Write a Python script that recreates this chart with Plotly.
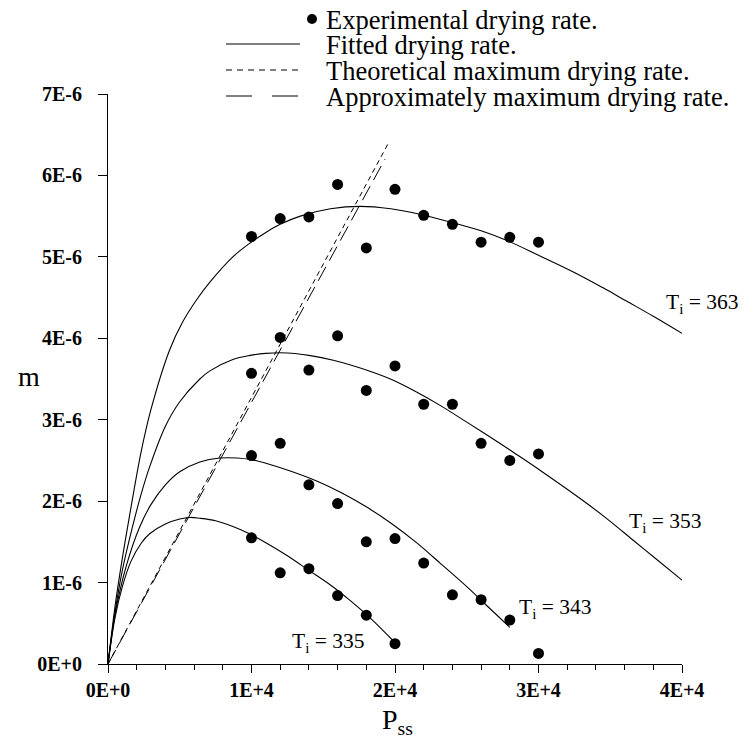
import plotly.graph_objects as go

# ---------------- data ----------------
P_exp = [10000, 12000, 14000, 16000, 18000, 20000, 22000, 24000, 26000, 28000, 30000]
m_exp_363 = [5.25e-6, 5.47e-6, 5.49e-6, 5.89e-6, 5.11e-6, 5.83e-6, 5.51e-6, 5.40e-6, 5.18e-6, 5.24e-6, 5.18e-6]
m_exp_353 = [3.57e-6, 4.01e-6, 3.61e-6, 4.03e-6, 3.36e-6, 3.66e-6, 3.19e-6, 3.19e-6, 2.71e-6, 2.50e-6, 2.58e-6]
m_exp_343 = [2.56e-6, 2.71e-6, 2.20e-6, 1.97e-6, 1.50e-6, 1.54e-6, 1.24e-6, 0.85e-6, 0.79e-6, 0.54e-6, 0.13e-6]
P_exp_335 = [10000, 12000, 14000, 16000, 18000, 20000]
m_exp_335 = [1.55e-6, 1.12e-6, 1.17e-6, 0.84e-6, 0.60e-6, 0.25e-6]

fit_P_363 = [0, 500, 1000, 1500, 2300, 3000, 4300, 5200, 6200, 7100, 8700, 9900, 11000, 12000, 13400,
             15500, 17600, 19700, 21800, 24000, 26000, 27800, 30000, 32600, 34500, 36100, 38000, 40000]
fit_m_363 = [0, 0.72e-6, 1.30e-6, 1.82e-6, 2.60e-6, 3.13e-6, 3.86e-6, 4.20e-6, 4.48e-6, 4.69e-6,
             5.00e-6, 5.17e-6, 5.30e-6, 5.40e-6, 5.50e-6, 5.59e-6, 5.62e-6, 5.59e-6, 5.52e-6, 5.42e-6,
             5.32e-6, 5.20e-6, 5.02e-6, 4.80e-6, 4.62e-6, 4.46e-6, 4.27e-6, 4.06e-6]

fit_P_353 = [0, 500, 1000, 1700, 2300, 2900, 4000, 5000, 6400, 7100, 8700, 9900, 11000, 12500, 14000,
             15700, 18000, 19800, 21500, 23200, 25000, 27300, 28500, 30100, 33000, 34800, 36600, 38200, 40000]
fit_m_353 = [0, 0.65e-6, 1.15e-6, 1.68e-6, 2.08e-6, 2.42e-6, 2.92e-6, 3.22e-6, 3.50e-6, 3.60e-6, 3.74e-6,
             3.79e-6, 3.815e-6, 3.82e-6, 3.79e-6, 3.73e-6, 3.61e-6, 3.49e-6, 3.34e-6, 3.17e-6, 2.97e-6,
             2.71e-6, 2.57e-6, 2.38e-6, 2.02e-6, 1.78e-6, 1.52e-6, 1.29e-6, 1.03e-6]

fit_P_343 = [0, 500, 1300, 2200, 3000, 4000, 5000, 6400, 7800, 9000, 10000, 11000, 12700, 14500, 16300,
             18000, 19800, 21500, 23200, 25000, 26500, 28000]
fit_m_343 = [0, 0.62e-6, 1.22e-6, 1.68e-6, 1.96e-6, 2.20e-6, 2.36e-6, 2.48e-6, 2.53e-6, 2.53e-6, 2.51e-6,
             2.465e-6, 2.37e-6, 2.25e-6, 2.10e-6, 1.93e-6, 1.72e-6, 1.49e-6, 1.23e-6, 0.95e-6, 0.70e-6, 0.45e-6]

fit_P_335 = [0, 500, 1000, 1600, 2300, 2900, 4000, 5000, 5700, 6400, 7500, 8700, 9750, 11000, 12500, 14000,
             15500, 16800, 18300, 19900]
fit_m_335 = [0, 0.58e-6, 0.95e-6, 1.26e-6, 1.48e-6, 1.60e-6, 1.72e-6, 1.78e-6, 1.80e-6, 1.79e-6, 1.76e-6,
             1.69e-6, 1.61e-6, 1.49e-6, 1.33e-6, 1.15e-6, 0.97e-6, 0.79e-6, 0.56e-6, 0.28e-6]

theo_P = [0, 19550]
theo_m = [0, 6.40e-6]
approx_P = [0, 19300]
approx_m = [0, 6.20e-6]

x_tick_vals = [0, 10000, 20000, 30000, 40000]
x_tick_text = ["0E+0", "1E+4", "2E+4", "3E+4", "4E+4"]
y_tick_vals = [0, 1e-6, 2e-6, 3e-6, 4e-6, 5e-6, 6e-6, 7e-6]
y_tick_text = ["0E+0", "1E-6", "2E-6", "3E-6", "4E-6", "5E-6", "6E-6", "7E-6"]

labels = ["T<sub>i</sub> = 363", "T<sub>i</sub> = 353", "T<sub>i</sub> = 343", "T<sub>i</sub> = 335"]
label_P = [38750, 36200, 28500, 12700]
label_m = [4.43e-6, 1.74e-6, 0.68e-6, 0.27e-6]

legend_texts = ["Experimental drying rate.", "Fitted drying rate.",
                "Theoretical maximum drying rate.", "Approximately maximum drying rate."]

# ---------------- figure ----------------
SERIF = "Liberation Serif, Times New Roman, serif"
fig = go.Figure()

line_style = dict(color="black", width=1.1, shape="spline", smoothing=1.0)
for P, m in [(fit_P_363, fit_m_363), (fit_P_353, fit_m_353), (fit_P_343, fit_m_343), (fit_P_335, fit_m_335)]:
    fig.add_trace(go.Scatter(x=P, y=m, mode="lines", line=line_style, showlegend=False, cliponaxis=False))

fig.add_trace(go.Scatter(x=theo_P, y=theo_m, mode="lines",
                         line=dict(color="black", width=1, dash="5px,4px"), showlegend=False, cliponaxis=False))
fig.add_trace(go.Scatter(x=approx_P, y=approx_m, mode="lines",
                         line=dict(color="black", width=1, dash="16px,7px"), showlegend=False, cliponaxis=False))

marker = dict(color="black", size=11, symbol="circle")
for P, m in [(P_exp, m_exp_363), (P_exp, m_exp_353), (P_exp, m_exp_343), (P_exp_335, m_exp_335)]:
    fig.add_trace(go.Scatter(x=P, y=m, mode="markers", marker=marker, showlegend=False, cliponaxis=False))

# curve labels
for t, px, pm in zip(labels, label_P, label_m):
    fig.add_annotation(x=px, y=pm, text=t, showarrow=False, xanchor="left", yanchor="middle",
                       font=dict(family=SERIF, size=21.5, color="black"))

# axis titles
fig.add_annotation(xref="paper", yref="paper", x=-0.138, y=0.505, text="m", showarrow=False,
                   xanchor="center", yanchor="middle", font=dict(family=SERIF, size=28, color="black"))
fig.add_annotation(xref="paper", yref="paper", x=0.505, y=-0.10, text="P<sub>ss</sub>", showarrow=False,
                   xanchor="center", yanchor="middle", font=dict(family=SERIF, size=28, color="black"))

# manual legend (paper coordinates; page pixels -> paper)
W, H = 574.0, 570.0
def px2x(p):
    return (p - 108.0) / W
def py2y(p):
    return (664.0 - p) / H

rows_y = [19, 44, 70, 96]
text_x = px2x(324)
for t, ry in zip(legend_texts, rows_y):
    fig.add_annotation(xref="paper", yref="paper", x=text_x, y=py2y(ry + 1), text=t, showarrow=False,
                       xanchor="left", yanchor="middle", font=dict(family=SERIF, size=26.5, color="black"))
# dot
fig.add_shape(type="circle", xref="paper", yref="paper",
              x0=px2x(307), x1=px2x(317), y0=py2y(rows_y[0] + 5), y1=py2y(rows_y[0] - 5),
              fillcolor="black", line=dict(color="black", width=0))
# sample lines
fig.add_shape(type="line", xref="paper", yref="paper", x0=px2x(226), x1=px2x(300),
              y0=py2y(rows_y[1]), y1=py2y(rows_y[1]), line=dict(color="black", width=1.1))
fig.add_shape(type="line", xref="paper", yref="paper", x0=px2x(226), x1=px2x(300),
              y0=py2y(rows_y[2]), y1=py2y(rows_y[2]), line=dict(color="black", width=1, dash="6px,5px"))
fig.add_shape(type="line", xref="paper", yref="paper", x0=px2x(226), x1=px2x(300),
              y0=py2y(rows_y[3]), y1=py2y(rows_y[3]), line=dict(color="black", width=1, dash="26px,20px"))

axis_common = dict(showgrid=False, zeroline=False, showline=True, linecolor="black", linewidth=1.2,
                   ticks="outside", tickcolor="black", tickwidth=1.2,
                   tickfont=dict(family=SERIF, size=20, color="black", weight="bold"))

fig.update_xaxes(range=[0, 40000], tickmode="array", tickvals=x_tick_vals, ticktext=x_tick_text,
                 ticklen=8,
                 minor=dict(tickmode="linear", tick0=0, dtick=2000, ticks="outside", ticklen=5,
                            tickcolor="black", tickwidth=1, showgrid=False),
                 **axis_common)
fig.update_yaxes(range=[0, 7e-6], tickmode="array", tickvals=y_tick_vals, ticktext=y_tick_text,
                 ticklen=9, ticklabelposition="outside", ticklabelstandoff=12, **axis_common)

# page body has an 8px margin: shrink figure and margins so the plot area lands at page (108..682, 94..664)
fig.update_layout(width=742, height=733, margin=dict(l=100, r=68, t=86, b=77),
                  plot_bgcolor="white", paper_bgcolor="white", showlegend=False)

fig.write_html("out.html")
